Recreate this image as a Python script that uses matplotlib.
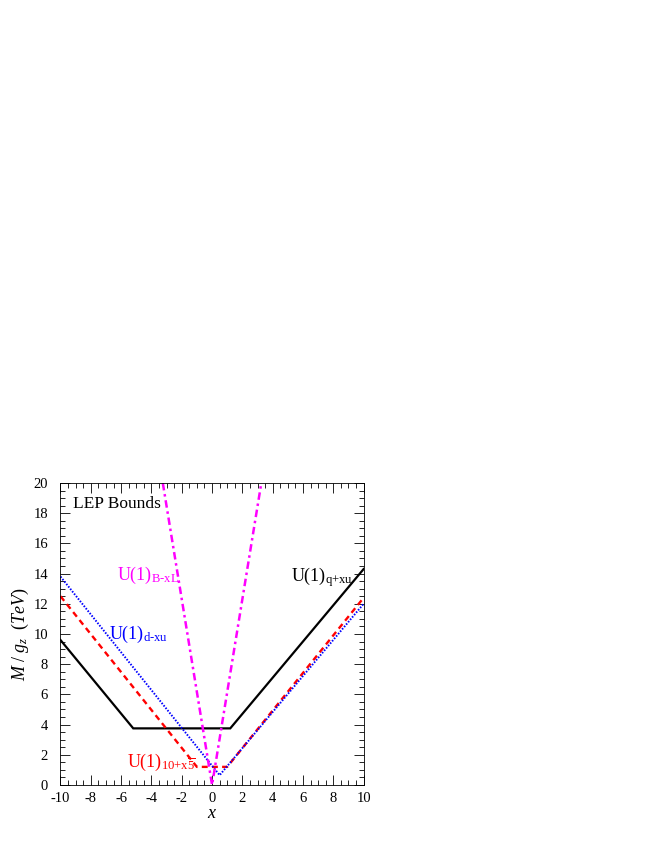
import numpy as np
import matplotlib.pyplot as plt

plt.rcParams['font.family'] = ['Liberation Serif', 'DejaVu Serif']
plt.rcParams['mathtext.fontset'] = 'custom'
plt.rcParams['mathtext.rm'] = 'Liberation Serif'
plt.rcParams['mathtext.it'] = 'Liberation Serif:italic'
plt.rcParams['mathtext.bf'] = 'Liberation Serif:bold'
plt.rcParams['axes.unicode_minus'] = False

# bound curves (x, M/g_z in TeV)
x_q = [-10, -5.2, 1.2, 10]
y_q = [9.6, 3.75, 3.75, 14.3]

x_10 = [-10, -1.0, 1.0, 10]
y_10 = [12.5, 1.2, 1.2, 12.4]

x_d = [-10, 0.1, 0.5, 10]
y_d = [13.8, 1.15, 0.65, 12.0]

x_bl = [-3.25, 0.0, 3.25]
y_bl = [20, 0.0, 20]

fig = plt.figure(figsize=(6.54, 8.46), dpi=100)
ax = fig.add_axes([0.0925, 0.0721, 0.4635, 0.357])

ax.plot(x_q, y_q, color='black', lw=1.6, solid_joinstyle='miter')
ax.plot(x_10, y_10, color='red', lw=1.7, ls=(0, (2.5, 1.8)))
ax.plot(x_d, y_d, color='blue', lw=1.4, ls=(0, (0.8, 0.8)))
ax.plot(x_bl, y_bl, color='magenta', lw=1.8, ls=(0, (3, 1.5, 1, 1.5)))

ax.set_xlim(-10, 10)
ax.set_ylim(0, 20)
ax.set_xticks(np.arange(-10, 11, 2))
ax.set_yticks(np.arange(0, 21, 2))
ax.set_xticks(np.arange(-10, 10.01, 0.5), minor=True)
ax.set_yticks(np.arange(0, 20.01, 0.5), minor=True)
ax.tick_params(which='both', direction='in', top=True, right=True, labelsize=10.5)
ax.tick_params(which='major', length=7, width=0.6)
ax.tick_params(which='minor', length=3.5, width=0.6)
ax.tick_params(axis='y', which='major', pad=9)
ax.tick_params(axis='x', which='major', pad=5)
for s in ax.spines.values():
    s.set_linewidth(0.6)

ax.set_xlabel('$x$', fontsize=13, labelpad=0)
ax.set_ylabel(r'$M\ /\ g_{z}\ \ (TeV)$', fontsize=13, labelpad=2)

ax.text(-9.2, 18.6, 'LEP Bounds', fontsize=12.5, va='center')
ax.text(-6.3, 13.9, r'U(1)$_{\text{B-xL}}$', color='magenta', fontsize=13, va='center')
ax.text(-6.8, 10.0, r'U(1)$_{\text{d-xu}}$', color='blue', fontsize=13, va='center')
ax.text(5.2, 13.8, r'U(1)$_{\text{q+xu}}$', color='black', fontsize=13, va='center')
ax.text(-5.6, 1.5, r'U(1)$_{\text{10+x}\overline{\mathrm{5}}}$', color='red', fontsize=13, va='center')

fig.savefig('out.png', dpi=100)
